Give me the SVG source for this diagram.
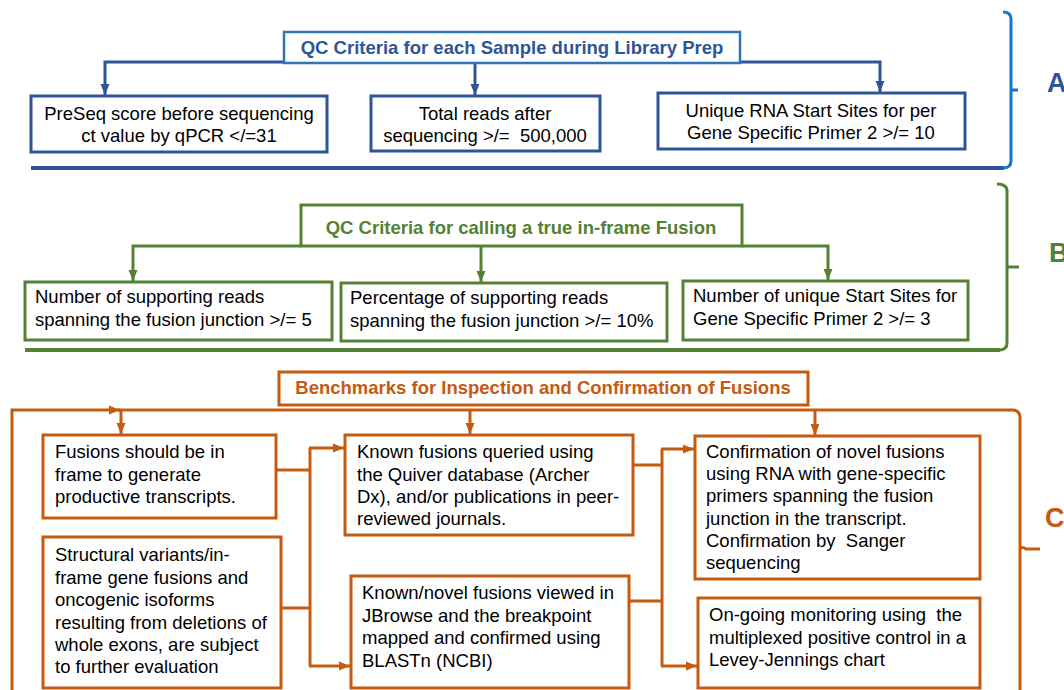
<svg xmlns="http://www.w3.org/2000/svg" width="1064" height="690" viewBox="0 0 1064 690">
<defs>
<style>
text{font-family:"Liberation Sans",Arial,sans-serif;font-size:18.5px;fill:#000;white-space:pre}
.t{font-weight:bold}
.bA{fill:#fff;stroke:#2f5597;stroke-width:3}
.bB{fill:#fff;stroke:#548235;stroke-width:3}
.bC{fill:#fff;stroke:#c55a11;stroke-width:3}
.cA{fill:none;stroke:#2f5597;stroke-width:3}
.cB{fill:none;stroke:#548235;stroke-width:3}
.cC{fill:none;stroke:#c55a11;stroke-width:3}
.L{font-size:27px;font-weight:bold}
</style>
<marker id="mA" markerUnits="userSpaceOnUse" markerWidth="12" markerHeight="12" viewBox="0 0 12 12" refX="11" refY="6" orient="auto"><path d="M0,1.5 L11,6 L0,10.5 z" fill="#2f5597"/></marker>
<marker id="mB" markerUnits="userSpaceOnUse" markerWidth="12" markerHeight="12" viewBox="0 0 12 12" refX="11" refY="6" orient="auto"><path d="M0,1.5 L11,6 L0,10.5 z" fill="#548235"/></marker>
<marker id="mC" markerUnits="userSpaceOnUse" markerWidth="12" markerHeight="12" viewBox="0 0 12 12" refX="11" refY="6" orient="auto"><path d="M0,1.5 L11,6 L0,10.5 z" fill="#c55a11"/></marker>
</defs>
<rect width="1064" height="690" fill="#fff"/>

<g id="connectors">
<!-- A -->
<path class="cA" d="M284,62 H105 V95" marker-end="url(#mA)"/>
<path class="cA" d="M475,63 V95" marker-end="url(#mA)"/>
<path class="cA" d="M740,62 H880 V92" marker-end="url(#mA)"/>
<!-- B -->
<path class="cB" d="M301,246 H133 V281" marker-end="url(#mB)"/>
<path class="cB" d="M481,246 V282" marker-end="url(#mB)"/>
<path class="cB" d="M742,246 H828 V280" marker-end="url(#mB)"/>
<!-- C -->
<path class="cC" d="M12,690 V410 H120" marker-end="url(#mC)"/>
<path class="cC" d="M118,410 H1012 Q1020,410 1020,418 V690"/>
<path class="cC" d="M121,410 V434" marker-end="url(#mC)"/>
<path class="cC" d="M470,410 V434" marker-end="url(#mC)"/>
<path class="cC" d="M815,410 V435" marker-end="url(#mC)"/>
<path class="cC" d="M276,470 H310"/>
<path class="cC" d="M281,608 H310"/>
<path class="cC" d="M310,448 V666"/>
<path class="cC" d="M309,448 H344" marker-end="url(#mC)"/>
<path class="cC" d="M309,666 H350" marker-end="url(#mC)"/>
<path class="cC" d="M633,465 H662"/>
<path class="cC" d="M629,601 H662"/>
<path class="cC" d="M662,449 V666"/>
<path class="cC" d="M661,449 H694" marker-end="url(#mC)"/>
<path class="cC" d="M661,666 H697" marker-end="url(#mC)"/>
<path class="cC" d="M12,695 H36" marker-end="url(#mC)"/>
</g>

<g id="sectionA">
<path d="M31,168 H1004" fill="none" stroke="#2f5597" stroke-width="4"/>
<path d="M1003,12 Q1011,12 1011,19 V161 Q1011,168 1003,168 M1011,90 H1018" fill="none" stroke="#1b75c9" stroke-width="3"/>
<text class="L" x="1047" y="92" style="fill:#2f5597">A</text>
</g>
<g id="titleA">
<rect x="284" y="32" width="456" height="31" fill="#fff" stroke="#2e75b6" stroke-width="2.5"/>
<text class="t" x="512" y="54" text-anchor="middle" style="fill:#2f5597">QC Criteria for each Sample during Library Prep</text>
</g>
<g id="a1">
<rect class="bA" x="31" y="96" width="296" height="56"/>
<text x="179" y="120" text-anchor="middle">PreSeq score before sequencing</text>
<text x="179" y="142" text-anchor="middle">ct value by qPCR &lt;/=31</text>
</g>
<g id="a2">
<rect class="bA" x="371" y="96" width="229" height="55"/>
<text x="485" y="120" text-anchor="middle">Total reads after</text>
<text x="485" y="142" text-anchor="middle">sequencing &gt;/=  500,000</text>
</g>
<g id="a3">
<rect class="bA" x="658" y="93" width="307" height="56"/>
<text x="811" y="117" text-anchor="middle">Unique RNA Start Sites for per</text>
<text x="811" y="139" text-anchor="middle">Gene Specific Primer 2 &gt;/= 10</text>
</g>

<g id="sectionB">
<path d="M25,350 H1000" fill="none" stroke="#548235" stroke-width="4"/>
<path d="M997,184 Q1007,184 1007,191 V343 Q1007,350 999,350 M1007,267 H1019" fill="none" stroke="#548235" stroke-width="3"/>
<text class="L" x="1049" y="262" style="fill:#548235">B</text>
</g>
<g id="titleB">
<rect x="301" y="205" width="441" height="41" fill="#fff" stroke="#548235" stroke-width="3"/>
<text class="t" x="521" y="234" text-anchor="middle" style="fill:#548235">QC Criteria for calling a true in-frame Fusion</text>
</g>
<g id="b1">
<rect class="bB" x="25" y="282" width="307" height="58"/>
<text x="35" y="303">Number of supporting reads</text>
<text x="35" y="326">spanning the fusion junction &gt;/= 5</text>
</g>
<g id="b2">
<rect class="bB" x="341" y="283" width="326" height="58"/>
<text x="350" y="304">Percentage of supporting reads</text>
<text x="350" y="327">spanning the fusion junction &gt;/= 10%</text>
</g>
<g id="b3">
<rect class="bB" x="683" y="281" width="285" height="59"/>
<text x="693" y="302">Number of unique Start Sites for</text>
<text x="693" y="325">Gene Specific Primer 2 &gt;/= 3</text>
</g>

<g id="sectionC">
<path d="M1020,549 Q1022,546 1026,549 H1040" fill="none" stroke="#c55a11" stroke-width="3"/>
<text class="L" x="1045" y="527" style="fill:#c55a11">C</text>
</g>
<g id="titleC">
<rect x="279" y="372" width="529" height="33" fill="#fff" stroke="#c55a11" stroke-width="3"/>
<text class="t" x="543" y="394" text-anchor="middle" style="fill:#c55a11">Benchmarks for Inspection and Confirmation of Fusions</text>
</g>
<g id="c1">
<rect class="bC" x="43" y="435" width="233" height="83"/>
<text x="55" y="458">Fusions should be in</text>
<text x="55" y="481">frame to generate</text>
<text x="55" y="503">productive transcripts.</text>
</g>
<g id="c2">
<rect class="bC" x="43" y="537" width="238" height="151"/>
<text x="55" y="561">Structural variants/in-</text>
<text x="55" y="584">frame gene fusions and</text>
<text x="55" y="606">oncogenic isoforms</text>
<text x="55" y="629">resulting from deletions of</text>
<text x="55" y="651">whole exons, are subject</text>
<text x="55" y="673">to further evaluation</text>
</g>
<g id="c3">
<rect class="bC" x="345" y="435" width="288" height="100"/>
<text x="357" y="458">Known fusions queried using</text>
<text x="357" y="481">the Quiver database (Archer</text>
<text x="357" y="503">Dx), and/or publications in peer-</text>
<text x="357" y="525">reviewed journals.</text>
</g>
<g id="c4">
<rect class="bC" x="351" y="576" width="278" height="112"/>
<text x="362" y="599">Known/novel fusions viewed in</text>
<text x="362" y="622">JBrowse and the breakpoint</text>
<text x="362" y="644">mapped and confirmed using</text>
<text x="362" y="667">BLASTn (NCBI)</text>
</g>
<g id="c5">
<rect class="bC" x="695" y="436" width="285" height="143"/>
<text x="706" y="458">Confirmation of novel fusions</text>
<text x="706" y="480">using RNA with gene-specific</text>
<text x="706" y="502">primers spanning the fusion</text>
<text x="706" y="525">junction in the transcript.</text>
<text x="706" y="547">Confirmation by  Sanger</text>
<text x="706" y="569">sequencing</text>
</g>
<g id="c6">
<rect class="bC" x="698" y="598" width="282" height="90"/>
<text x="709" y="621">On-going monitoring using  the</text>
<text x="709" y="644">multiplexed positive control in a</text>
<text x="709" y="666">Levey-Jennings chart</text>
</g>
</svg>
